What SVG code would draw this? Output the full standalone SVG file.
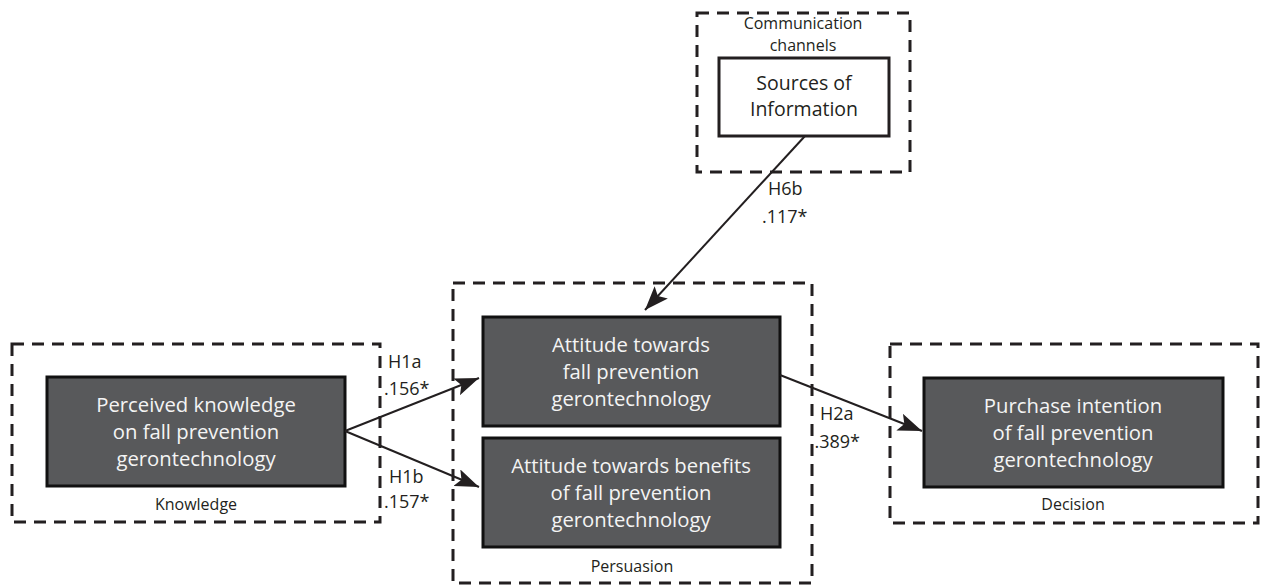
<svg xmlns="http://www.w3.org/2000/svg" width="1265" height="588" viewBox="0 0 1265 588">
<style>
.stage{fill:none;stroke:#231f20;stroke-width:3;stroke-dasharray:12 8}
.node{fill:#58595b;stroke:#111;stroke-width:3}
.wnode{fill:#fff;stroke:#231f20;stroke-width:3}
.nt{font-family:"Open Sans","Liberation Sans",sans-serif;font-size:20.3px;fill:#f4f4f4;text-anchor:middle}
.wt{font-family:"Open Sans","Liberation Sans",sans-serif;font-size:19.5px;fill:#231f20;text-anchor:middle}
.st{font-family:"Open Sans","Liberation Sans",sans-serif;font-size:16px;fill:#231f20;text-anchor:middle}
.lb{font-family:"Open Sans","Liberation Sans",sans-serif;font-size:18px;fill:#231f20}
.edge{stroke:#231f20;stroke-width:2;fill:none;marker-end:url(#ah)}
</style>
<defs>
<marker id="ah" markerUnits="userSpaceOnUse" markerWidth="24" markerHeight="18" viewBox="0 0 24 18" refX="24" refY="9" orient="auto">
<path d="M0,0 L24,9 L0,18 L5,9 Z" fill="#231f20"/>
</marker>
</defs>
<rect width="1265" height="588" fill="#fff"/>
<g id="stage-communication">
<rect class="stage" x="697" y="13" width="213" height="159"/>
<text class="st" x="803" y="29">Communication</text>
<text class="st" x="803" y="51">channels</text>
</g>
<g id="node-sources">
<rect class="wnode" x="719" y="58" width="170" height="78"/>
<text class="wt" x="804" y="90">Sources of</text>
<text class="wt" x="804" y="116">Information</text>
</g>
<g id="stage-knowledge">
<rect class="stage" x="12" y="344" width="368" height="178"/>
<text class="st" x="196" y="510">Knowledge</text>
</g>
<g id="node-perceived">
<rect class="node" x="47" y="377" width="298" height="109"/>
<text class="nt" x="196" y="412">Perceived knowledge</text>
<text class="nt" x="196" y="439">on fall prevention</text>
<text class="nt" x="196" y="466">gerontechnology</text>
</g>
<g id="stage-persuasion">
<rect class="stage" x="453" y="283" width="359" height="300"/>
<text class="st" x="632" y="572">Persuasion</text>
</g>
<g id="node-attitude">
<rect class="node" x="483" y="317" width="297" height="109"/>
<text class="nt" x="631" y="352">Attitude towards</text>
<text class="nt" x="631" y="379">fall prevention</text>
<text class="nt" x="631" y="406">gerontechnology</text>
</g>
<g id="node-benefits">
<rect class="node" x="483" y="438" width="297" height="109"/>
<text class="nt" x="631" y="473">Attitude towards benefits</text>
<text class="nt" x="631" y="500">of fall prevention</text>
<text class="nt" x="631" y="527">gerontechnology</text>
</g>
<g id="stage-decision">
<rect class="stage" x="890" y="344" width="368" height="179"/>
<text class="st" x="1073" y="510">Decision</text>
</g>
<g id="node-purchase">
<rect class="node" x="924" y="378" width="299" height="109"/>
<text class="nt" x="1073" y="413">Purchase intention</text>
<text class="nt" x="1073" y="440">of fall prevention</text>
<text class="nt" x="1073" y="467">gerontechnology</text>
</g>
<g id="connectors">
<line class="edge" x1="805" y1="136" x2="645" y2="310"/>
<line class="edge" x1="345" y1="431" x2="479" y2="378"/>
<line class="edge" x1="345" y1="431" x2="479" y2="487"/>
<line class="edge" x1="780" y1="375" x2="922" y2="431"/>
<text class="lb" x="768" y="195">H6b</text>
<text class="lb" x="762" y="223">.117*</text>
<text class="lb" x="388" y="368">H1a</text>
<text class="lb" x="384" y="395">.156*</text>
<text class="lb" x="389" y="483">H1b</text>
<text class="lb" x="384" y="508">.157*</text>
<text class="lb" x="820" y="420">H2a</text>
<text class="lb" x="814.5" y="448">.389*</text>
</g>
</svg>
